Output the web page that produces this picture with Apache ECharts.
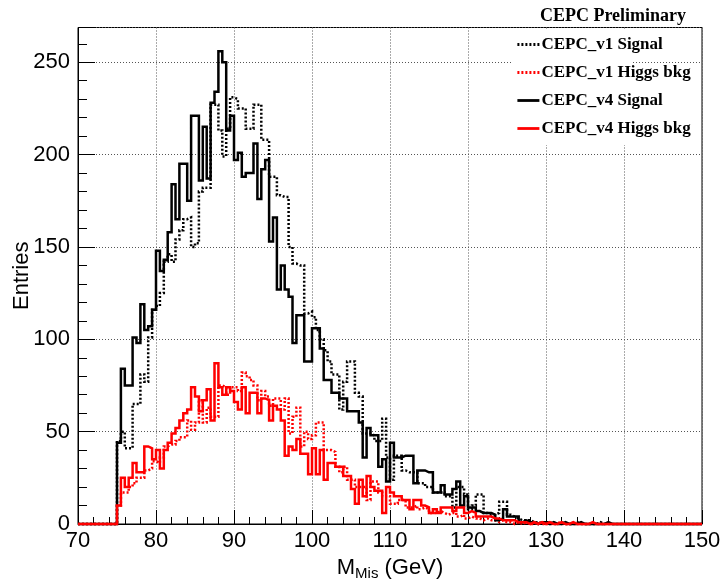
<!DOCTYPE html>
<html>
<head>
<meta charset="utf-8">
<script src="https://cdn.jsdelivr.net/npm/echarts@6/dist/echarts.min.js"></script>
<style>
html,body{margin:0;padding:0;background:#fff;}
#chart{width:724px;height:583px;}
</style>
</head>
<body>
<div id="chart"></div>
<script>
// Histogram binning (GeV)
var histXmin = 70;
var histXmax = 150;
var binWidth = 0.5;

// Axis ticks
var xTicks = [70, 80, 90, 100, 110, 120, 130, 140, 150];
var yTicks = [0, 50, 100, 150, 200, 250];
var yMax = 268.8;

var seriesNames = ['CEPC_v1 Signal', 'CEPC_v1 Higgs bkg', 'CEPC_v4 Signal', 'CEPC_v4 Higgs bkg'];

// Bin contents, 160 bins from 70 to 150 GeV
var v1Signal = [
0,0,0,0,0,0,0,0,0,0,
45,50,41,41,65,65,81,77,101,116,
118,125,142,146,142,154,159,165,166,150,
152,180,182,182,227,227,213,199,214,231,
230,225,225,214,214,227,227,208,208,188,
188,178,177,177,150,141,140,140,114,115,
112,105,100,94,88,81,81,62,77,88,
88,71,69,49,49,48,45,45,57,36,
24,37,37,29,28,28,28,22,22,20,
20,17,17,17,15,15,9,20,20,16,
8,10,16,16,6,5,5,6,12,12,
5,4,3,2,2,2,1,1,0,1,
1,0,0,1,0,0,0,1,0,0,
0,0,0,1,0,0,0,0,0,0,
0,0,0,0,0,0,0,0,0,0,
0,0,0,0,0,0,0,0,0,0
];
var v1HiggsBkg = [
0,0,0,0,0,0,0,0,0,0,
10,17,17,20,22,25,25,29,30,34,
33,36,42,43,43,45,47,47,56,51,
55,67,55,63,58,58,75,74,70,74,
74,72,82,80,78,75,67,72,69,64,
68,68,62,68,49,58,63,42,50,46,
48,55,55,40,40,39,31,28,31,24,
24,20,20,20,13,23,23,17,15,15,
11,11,13,13,9,9,10,8,9,8,
6,6,7,6,5,6,6,4,5,3,
4,3,3,2,3,2,2,1,2,1,
1,0,1,0,1,0,0,1,0,0,
0,0,1,0,0,0,0,0,0,0,
0,0,0,0,0,0,0,0,0,0,
0,0,0,0,0,0,0,0,0,0,
0,0,0,0,0,0,0,0,0,0
];
var v4Signal = [
0,0,0,0,0,0,0,0,0,0,
44,84,75,75,101,98,119,105,107,116,
148,137,143,158,184,165,195,195,175,221,
221,186,215,187,228,234,256,250,213,221,
197,201,188,190,190,206,176,192,197,153,
166,127,140,127,123,98,113,113,88,88,
106,106,95,78,78,71,71,68,68,61,
61,61,55,36,52,48,48,31,35,23,
44,36,36,37,37,37,22,29,29,28,
28,17,17,21,16,16,19,23,10,15,
9,9,7,6,6,6,5,2,3,8,
4,4,4,1,2,1,1,0,1,1,
0,1,0,0,1,0,0,0,1,0,
0,0,0,0,0,1,0,0,0,0,
0,0,0,0,0,0,0,0,0,0,
0,0,0,0,0,0,0,0,0,0
];
var v4HiggsBkg = [
0,0,0,0,0,0,0,0,0,0,
10,25,20,25,33,28,28,42,41,35,
40,30,40,44,49,52,56,60,62,74,
69,61,67,73,56,87,74,70,74,72,
66,62,74,60,71,71,60,68,67,56,
64,62,56,37,42,40,46,38,38,27,
41,27,40,24,33,33,31,31,26,26,
19,11,24,15,26,20,18,18,6,20,
17,15,15,13,13,8,13,13,10,9,
6,8,6,9,9,9,7,9,9,6,
7,6,4,4,4,4,3,3,2,2,
2,2,1,1,1,0,1,0,1,0,
1,0,0,1,0,0,1,0,0,0,
0,1,0,0,0,0,0,0,0,0,
0,0,0,0,0,0,0,0,0,0,
0,0,0,0,0,0,0,0,0,0
];

function toSteps(vals) {
  var pts = [];
  for (var i = 0; i < vals.length; i++) {
    pts.push([histXmin + i * binWidth, vals[i]]);
  }
  pts.push([histXmax, vals[vals.length - 1]]);
  return pts;
}

var chart = echarts.init(document.getElementById('chart'), null, {renderer: 'canvas'});

var labelFont = 'Liberation Sans';
var legendFont = 'Liberation Serif';

function histSeries(name, vals, color, dashed, width) {
  return {
    name: name,
    type: 'line',
    step: 'end',
    symbol: 'none',
    showSymbol: false,
    clip: false,
    animation: false,
    data: toSteps(vals),
    lineStyle: {color: color, width: width, type: dashed ? [2, 2] : 'solid', cap: 'butt', join: 'miter'},
    itemStyle: {color: color}
  };
}

var option = {
  backgroundColor: '#ffffff',
  animation: false,
  title: {
    text: 'CEPC Preliminary',
    left: 608,
    textAlign: 'center',
    top: 2,
    textStyle: {fontFamily: legendFont, fontWeight: 'bold', fontSize: 18, color: '#000'}
  },
  legend: {
    orient: 'vertical',
    left: 511,
    top: 31,
    itemWidth: 22,
    itemHeight: 14,
    itemGap: 11,
    data: seriesNames,
    itemStyle: {opacity: 0},
    lineStyle: {width: 2.8},
    textStyle: {fontFamily: legendFont, fontWeight: 'bold', fontSize: 17, color: '#000', padding: [0, 0, 0, -3]},
    selectedMode: false
  },
  graphic: [{
    type: 'rect',
    z: 1,
    shape: {x: 513, y: 29, width: 120, height: 116},
    style: {fill: '#ffffff'}
  }],
  grid: {
    left: 78, right: 22, top: 27.5, bottom: 59,
    outerBoundsMode: 'none',
    containLabel: false,
    show: true, borderColor: '#000', borderWidth: 1, backgroundColor: 'transparent'
  },
  xAxis: {
    type: 'value',
    min: xTicks[0],
    max: xTicks[xTicks.length - 1],
    interval: 10,
    name: '{m|M}{s|Mis}{m| (GeV)}',
    nameLocation: 'middle',
    nameGap: 26,
    nameTextStyle: {
      rich: {
        m: {fontFamily: labelFont, fontSize: 22, color: '#000'},
        s: {fontFamily: labelFont, fontSize: 15, color: '#000', padding: [12, 0, 0, 0]}
      }
    },
    axisLine: {show: true, lineStyle: {color: '#000', width: 1}},
    axisTick: {show: true, inside: true, length: 14, lineStyle: {color: '#000'}},
    minorTick: {show: true, splitNumber: 5, length: 7, lineStyle: {color: '#000'}},
    axisLabel: {fontFamily: labelFont, fontSize: 22, color: '#000', margin: 6},
    splitLine: {show: true, lineStyle: {color: '#555', width: 1, type: [1, 2]}}
  },
  yAxis: {
    type: 'value',
    min: yTicks[0],
    max: yMax,
    interval: 50,
    name: 'Entries',
    nameLocation: 'middle',
    nameGap: 45,
    nameMoveOverlap: false,
    nameTextStyle: {fontFamily: labelFont, fontSize: 22, color: '#000'},
    axisLine: {show: true, lineStyle: {color: '#000', width: 1}},
    axisTick: {show: true, inside: true, length: 17, lineStyle: {color: '#000'}},
    minorTick: {show: true, splitNumber: 5, length: 9, lineStyle: {color: '#000'}},
    axisLabel: {fontFamily: labelFont, fontSize: 22, color: '#000', margin: 8, showMaxLabel: false,
      formatter: function (v) { return yTicks.indexOf(v) >= 0 ? String(v) : ''; }},
    splitLine: {show: true, lineStyle: {color: '#555', width: 1, type: [1, 2]}}
  },
  series: [
    histSeries(seriesNames[0], v1Signal, '#000000', true, 2.5),
    histSeries(seriesNames[1], v1HiggsBkg, '#ff0000', true, 2.5),
    histSeries(seriesNames[2], v4Signal, '#000000', false, 2.5),
    histSeries(seriesNames[3], v4HiggsBkg, '#ff0000', false, 2.5)
  ]
};
chart.setOption(option);
</script>
</body>
</html>
